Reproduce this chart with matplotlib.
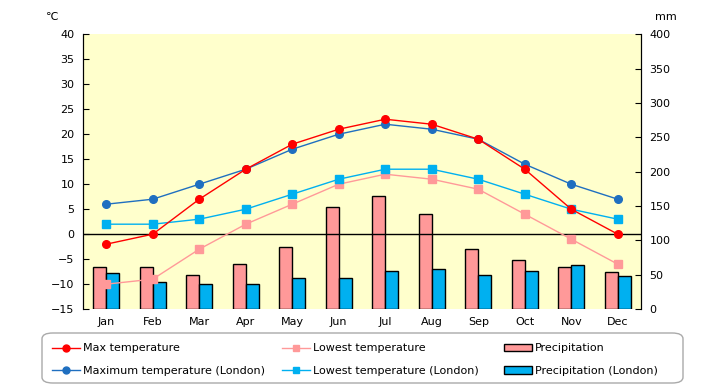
import numpy as np
import matplotlib
matplotlib.use("Agg")
import matplotlib.pyplot as plt
from matplotlib.lines import Line2D
from matplotlib.patches import Patch, FancyBboxPatch

plt.rcParams['font.family'] = ['DejaVu Sans', 'Noto Sans CJK JP']
plt.rcParams['font.size'] = 8

# ===== data =====
months = ["Jan", "Feb", "Mar", "Apr", "May", "Jun",
          "Jul", "Aug", "Sep", "Oct", "Nov", "Dec"]
max_temp = [-2, 0, 7, 13, 18, 21, 23, 22, 19, 13, 5, 0]
low_temp = [-10, -9, -3, 2, 6, 10, 12, 11, 9, 4, -1, -6]
precip = [62, 61, 50, 65, 90, 148, 164, 139, 87, 72, 61, 54]
max_london = [6, 7, 10, 13, 17, 20, 22, 21, 19, 14, 10, 7]
low_london = [2, 2, 3, 5, 8, 11, 13, 13, 11, 8, 5, 3]
precip_london = [53, 40, 37, 37, 46, 46, 56, 59, 50, 56, 64, 48]

# ===== colours =====
C_MAX = "#FF0000"
C_LOW = "#FF9999"
C_MAX_L = "#1F6FC0"
C_LOW_L = "#00B0F0"
BG = "#FFFFCC"

W, H = 720, 385
fig = plt.figure(figsize=(W / 100, H / 100), dpi=100)
ax = fig.add_axes([0.1153, 0.197, 0.775, 0.714])  # precipitation (right side)
ax2 = ax.twinx()                                   # temperature (left side)

x = np.arange(len(months))
w = 0.28

# bars
ax.bar(x - w / 2, precip, width=w, color=C_LOW, edgecolor="black", linewidth=1)
ax.bar(x + w / 2, precip_london, width=w, color=C_LOW_L, edgecolor="black", linewidth=1)
ax.set_facecolor(BG)
ax.set_ylim(0, 400)
ax.set_yticks(np.arange(0, 401, 50))
ax.yaxis.tick_right()
ax.set_xlim(-0.5, len(months) - 0.5)
ax.set_xticks(x, months)
ax.tick_params(axis='x', length=0, pad=6)
ax.tick_params(axis='y', direction='in', length=4, pad=6)

# temperature lines
ax2.axhline(0, color="black", lw=1, zorder=1)
ax2.plot(x, low_temp, color=C_LOW, marker='s', ms=5.5, lw=1)
ax2.plot(x, low_london, color=C_LOW_L, marker='s', ms=5.5, lw=1)
ax2.plot(x, max_london, color=C_MAX_L, marker='o', ms=5.5, lw=1)
ax2.plot(x, max_temp, color=C_MAX, marker='o', ms=5.5, lw=1)
ax2.set_ylim(-15, 40)
ax2.set_yticks(np.arange(-15, 41, 5))
ax2.yaxis.tick_left()
ax2.tick_params(axis='y', direction='in', length=4, pad=6)

for a in (ax, ax2):
    a.spines['top'].set_visible(False)
    a.spines['bottom'].set_visible(False)

fig.text(0.072, 0.955, "℃", ha='center', va='center')
fig.text(0.925, 0.955, "mm", ha='center', va='center')

# legend frame
frame = FancyBboxPatch((42 / W, 2 / H), 641 / W, 50 / H,
                       boxstyle="round,pad=0,rounding_size=0.015",
                       transform=fig.transFigure, facecolor="white",
                       edgecolor="#AAAAAA", linewidth=1)
fig.add_artist(frame)

groups = [
    (52, [Line2D([], [], color=C_MAX, marker='o', ms=5, lw=1),
          Line2D([], [], color=C_MAX_L, marker='o', ms=5, lw=1)],
     ["Max temperature", "Maximum temperature (London)"]),
    (282, [Line2D([], [], color=C_LOW, marker='s', ms=5, lw=1),
           Line2D([], [], color=C_LOW_L, marker='s', ms=5, lw=1)],
     ["Lowest temperature", "Lowest temperature (London)"]),
    (504, [Patch(facecolor=C_LOW, edgecolor="black"),
           Patch(facecolor=C_LOW_L, edgecolor="black")],
     ["Precipitation", "Precipitation (London)"]),
]
for xpx, hs, ls in groups:
    leg = fig.legend(hs, ls, loc="center left", frameon=False,
                     bbox_to_anchor=(xpx / W, 1 - 359.5 / H),
                     borderpad=0, borderaxespad=0, handlelength=2.5,
                     handletextpad=0.3, labelspacing=1.1)

fig.savefig("out.png", dpi=100)
